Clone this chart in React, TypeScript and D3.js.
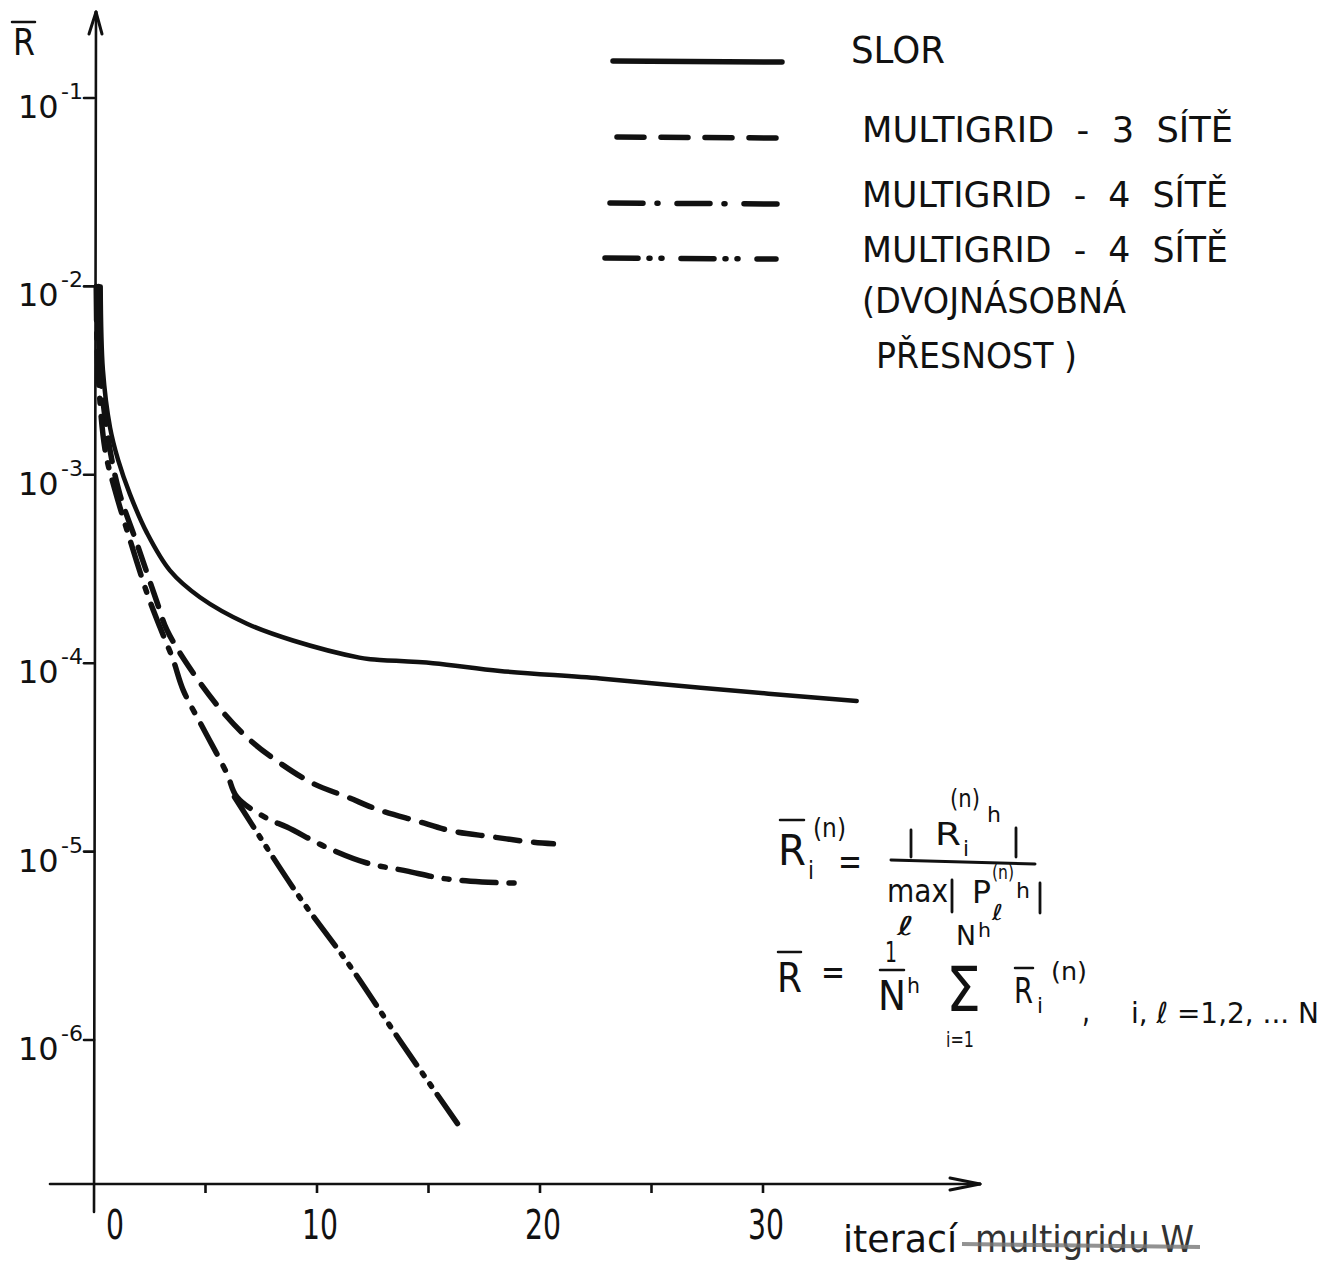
import React, { useEffect, useRef } from "react";
import * as d3 from "d3";

// iterace (osa x) a rezidua R (osa y, log)
const slorIter = [0.3, 0.4, 0.72, 1.08, 1.61, 2.38, 3.41, 4.75, 6.86, 8.92, 11.9, 12.4, 15.2, 18.2, 22.7, 27.2, 34.2];
const slorR = [1.0e-2, 3.6e-3, 1.78e-3, 1.2e-3, 7.9e-4, 4.9e-4, 3.1e-4, 2.24e-4, 1.62e-4, 1.32e-4, 1.07e-4, 1.05e-4, 1.0e-4, 9.1e-5, 8.3e-5, 7.4e-5, 6.3e-5];

const mg3Iter = [0.2, 0.27, 0.72, 1.17, 1.93, 2.83, 3.27, 4.44, 5.78, 7.0, 8.34, 9.82, 11.35, 12.8, 14.5, 16.0, 17.8, 19.7, 20.6];
const mg3R = [1.0e-2, 3.6e-3, 1.35e-3, 7.8e-4, 4.3e-4, 2.1e-4, 1.5e-4, 8.9e-5, 5.5e-5, 3.9e-5, 2.95e-5, 2.3e-5, 1.95e-5, 1.66e-5, 1.45e-5, 1.29e-5, 1.2e-5, 1.12e-5, 1.1e-5];

const mg4Iter = [0.1, 0.18, 0.5, 0.94, 1.52, 2.38, 2.96, 3.54, 4.0, 4.9, 5.96, 6.41, 7.76, 8.65, 10.45, 12.24, 14.0, 15.65, 17.4, 19.2];
const mg4R = [1.0e-2, 3.6e-3, 1.35e-3, 8.3e-4, 4.9e-4, 2.35e-4, 1.55e-4, 1.05e-4, 7.2e-5, 4.5e-5, 2.6e-5, 1.95e-5, 1.5e-5, 1.35e-5, 1.05e-5, 8.7e-6, 7.9e-6, 7.2e-6, 6.9e-6, 6.8e-6];

// dvojnasobna presnost - odbocuje z mg4 u 6. iterace
const mg4dIter = [6.3, 9.1, 11.5, 13.7, 16.3];
const mg4dR = [1.95e-5, 6.0e-6, 2.45e-6, 1.0e-6, 3.6e-7];

const yTickExp = [-1, -2, -3, -4, -5, -6];
const xTicks = [5, 10, 15, 20, 25, 30];
const xTickLabels = [0, 10, 20, 30];
const legendLabels = ["SLOR", "MULTIGRID  -  3  SÍTĚ", "MULTIGRID  -  4  SÍTĚ", "MULTIGRID  -  4  SÍTĚ"];
const legendNote = ["(DVOJNÁSOBNÁ", "PŘESNOST )"];

const W = 1339;
const H = 1263;
const FONT = "DejaVu Sans, sans-serif";
const INK = "#111";

const App = () => {
  const svgRef = useRef(null);

  useEffect(() => {
    if (svgRef.current) drawChart();
  }, []);

  const drawChart = () => {
    const svg = d3.select(svgRef.current);
    svg.selectAll("*").remove();

    const x = d3.scaleLinear().domain([0, 30]).range([94, 763]);
    const y = d3.scaleLog().domain([1e-1, 1e-6]).range([98, 1040]);
    const axisY = 1184;
    const x0 = x(0);

    const txt = (g, s, px, py, size, len, fill = INK) => {
      const t = g.append("text")
        .attr("x", px)
        .attr("y", py)
        .attr("font-family", FONT)
        .attr("font-size", size)
        .attr("fill", fill)
        .text(s);
      if (len) t.attr("textLength", len).attr("lengthAdjust", "spacingAndGlyphs");
      return t;
    };
    // jeden text, casti na pevnych mistech (vzorec)
    const multi = (g, parts) => {
      const t = g.append("text").attr("font-family", FONT).attr("fill", INK);
      parts.forEach(([s, px, py, size, len]) => {
        const sp = t.append("tspan")
          .attr("x", px).attr("y", py)
          .attr("font-size", size)
          .text(s);
        if (len) sp.attr("textLength", len).attr("lengthAdjust", "spacingAndGlyphs");
      });
      return t;
    };
    const seg = (g, x1, y1, x2, y2, w = 3) =>
      g.append("line")
        .attr("x1", x1).attr("y1", y1).attr("x2", x2).attr("y2", y2)
        .attr("stroke", INK).attr("stroke-width", w).attr("stroke-linecap", "round");

    // osy
    const axes = svg.append("g");
    seg(axes, 50, axisY, 980, axisY, 2.6);
    seg(axes, 980, axisY, 950, axisY - 6, 3);
    seg(axes, 980, axisY, 950, axisY + 6, 3);
    seg(axes, x0, 1212, x0 + 2, 12, 2.6);
    seg(axes, x0 + 2, 12, x0 - 5, 34, 3);
    seg(axes, x0 + 2, 12, x0 + 8, 34, 3);

    axes.selectAll(".xt")
      .data(xTicks)
      .enter()
      .append("line")
      .attr("class", "xt")
      .attr("x1", (d) => x(d)).attr("x2", (d) => x(d))
      .attr("y1", axisY).attr("y2", axisY + 9)
      .attr("stroke", INK).attr("stroke-width", 2.6);

    xTickLabels.forEach((v) => {
      const s = String(v);
      txt(axes, s, x(v) + (v === 0 ? 21 : 3), 1239, 40, s.length * 18)
        .attr("text-anchor", "middle");
    });

    yTickExp.forEach((e) => {
      const ty = y(Math.pow(10, e));
      seg(axes, x0 - 10, ty, x0, ty, 2.6);
      txt(axes, "10", 18, ty + 20, 32);
      txt(axes, "-" + Math.abs(e), 61, ty + 1, 22);
    });

    // popisky os
    txt(axes, "R", 13, 55, 37, 22);
    seg(axes, 12, 22, 35, 22, 2.5);
    txt(axes, "iterací", 843, 1252, 38, 114);
    txt(axes, "multigridu W", 975, 1252, 38, 219, "#333");
    axes.append("line")
      .attr("x1", 962).attr("y1", 1244).attr("x2", 1200).attr("y2", 1247)
      .attr("stroke", "#777").attr("stroke-width", 4).attr("opacity", 0.8);

    // krivky
    const line = d3.line()
      .x((d) => x(d[0]))
      .y((d) => y(d[1]))
      .curve(d3.curveCatmullRom.alpha(0.5));

    const series = [
      { iter: slorIter, r: slorR, dash: null, w: 4.5 },
      { iter: mg3Iter, r: mg3R, dash: "24 14", w: 5.5 },
      { iter: mg4Iter, r: mg4R, dash: "34 13 5 13", w: 5.5 },
      { iter: mg4dIter, r: mg4dR, dash: "36 10 3 10 3 10", w: 5.5 },
    ];

    const curves = svg.append("g");
    series.forEach((s) => {
      const pts = s.iter.map((v, i) => [v, s.r[i]]);
      curves.append("path")
        .attr("d", line(pts))
        .attr("fill", "none")
        .attr("stroke", INK)
        .attr("stroke-width", s.w)
        .attr("stroke-linecap", "round")
        .attr("stroke-linejoin", "round")
        .attr("stroke-dasharray", s.dash);
    });

    // legenda
    const leg = svg.append("g");
    const legLines = [
      { x1: 613, x2: 782, y: 61, dash: null },
      { x1: 617, x2: 778, y: 137, dash: "27 17" },
      { x1: 610, x2: 778, y: 203, dash: "33 14 1 19" },
      { x1: 605, x2: 776, y: 258, dash: "33 11 1 11 1 19" },
    ];
    legLines.forEach((l) => {
      leg.append("line")
        .attr("x1", l.x1).attr("x2", l.x2)
        .attr("y1", l.y).attr("y2", l.y + 1)
        .attr("stroke", INK)
        .attr("stroke-width", 5.5)
        .attr("stroke-linecap", "round")
        .attr("stroke-dasharray", l.dash);
    });
    txt(leg, legendLabels[0], 851, 63, 37, 94);
    txt(leg, legendLabels[1], 862, 142, 35, 371).attr("xml:space", "preserve");
    txt(leg, legendLabels[2], 862, 207, 35, 366).attr("xml:space", "preserve");
    txt(leg, legendLabels[3], 862, 262, 35, 366).attr("xml:space", "preserve");
    txt(leg, legendNote[0], 862, 313, 35, 264);
    txt(leg, legendNote[1], 876, 368, 35, 201);

    // vzorec
    const f = svg.append("g");
    seg(f, 780, 820, 804, 820, 2.5);
    seg(f, 911, 830, 911, 857, 2.8);
    seg(f, 1016, 828, 1016, 857, 2.8);
    seg(f, 891, 860, 1035, 864, 3);
    seg(f, 952, 880, 952, 912, 2.8);
    seg(f, 1040, 883, 1040, 913, 2.8);
    seg(f, 778, 952, 801, 952, 2.5);
    seg(f, 880, 970, 904, 970, 2.5);
    seg(f, 1015, 968, 1033, 968, 2.5);

    multi(f, [
      ["R", 778, 865, 42, 28],
      ["(n)", 813, 837, 26, 33],
      ["i", 808, 879, 24, 6],
      ["=", 838, 874, 38, 24],
      ["R", 935, 845, 32, 26],
      ["i", 963, 856, 22, 6],
      ["(n)", 950, 807, 24, 30],
      ["h", 987, 822, 22, 14],
      ["max", 887, 902, 32, 61],
      ["P", 972, 903, 32, 19],
      ["(n)", 992, 879, 20, 22],
      ["h", 1016, 898, 22, 14],
      ["ℓ", 897, 935, 26, 17],
      ["ℓ", 992, 920, 22, 11],
      ["R", 777, 992, 40, 25],
      ["=", 821, 984, 36, 24],
      ["1", 885, 962, 28, 12],
      ["N", 878, 1010, 40, 28],
      ["h", 907, 993, 22, 13],
      ["Σ", 946, 1011, 62, 35],
      ["N", 956, 945, 26, 20],
      ["h", 978, 937, 20, 13],
      ["i=1", 946, 1047, 21, 28],
      ["R", 1014, 1003, 36, 19],
      ["i", 1037, 1013, 22, 6],
      ["(n)", 1051, 980, 24, 36],
      [",", 1082, 1022, 34, 8],
    ]);
    txt(f, "i, ℓ =1,2, ... N", 1131, 1023, 29, 188).attr("xml:space", "preserve");
  };

  return (
    <svg
      ref={svgRef}
      width={W}
      height={H}
      style={{ position: "absolute", left: 0, top: 0, background: "#fff" }}
    />
  );
};

export default App;
